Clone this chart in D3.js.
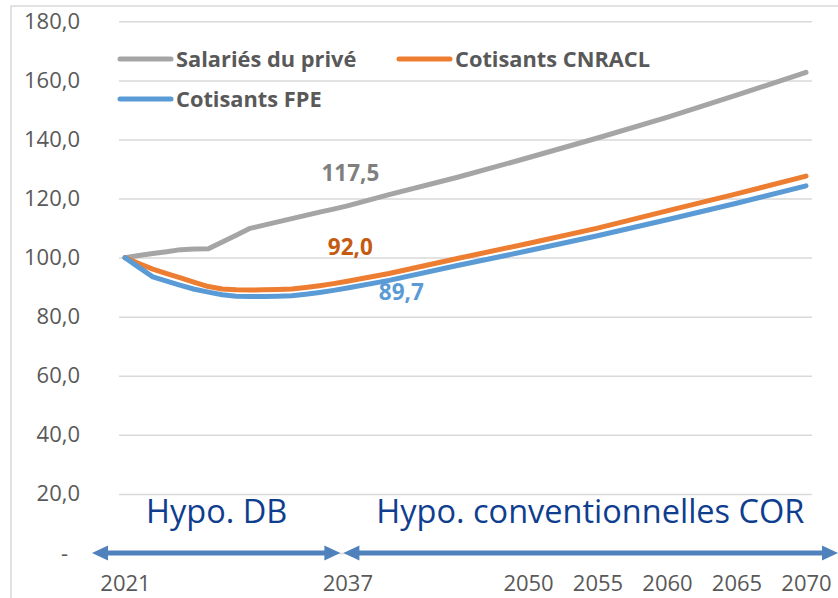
<!DOCTYPE html>
<html>
<head>
<meta charset="utf-8">
<script src="https://cdn.jsdelivr.net/npm/d3@7"></script>
<style>
  body { margin: 0; background: #fff; }
  svg { font-family: "Open Sans", sans-serif; }
  .grid line { stroke: #d9d9d9; stroke-width: 1.5; }
</style>
</head>
<body>
<svg id="chart"></svg>
<script>
// data
var years = [2021, 2022, 2023, 2024, 2025, 2026, 2027, 2028, 2029, 2030, 2031, 2032,
             2033, 2034, 2035, 2036, 2037, 2040, 2045, 2050, 2055, 2060, 2065, 2070];
var salaries = [100, 100.7, 101.4, 102.0, 102.7, 102.9, 103.0, 105.3, 107.6, 109.9, 111.0, 112.1,
                113.2, 114.3, 115.4, 116.4, 117.5, 121.3, 127.3, 133.8, 140.5, 147.5, 155.0, 162.7];
var cnracl = [100, 98.0, 96.1, 94.6, 93.1, 91.6, 90.2, 89.4, 89.1, 89.0, 89.1, 89.2,
              89.4, 89.9, 90.5, 91.2, 92.0, 94.6, 99.8, 104.8, 110.0, 115.8, 121.6, 127.6];
var fpe = [100, 96.7, 93.5, 92.0, 90.6, 89.3, 88.3, 87.4, 86.9, 86.8, 86.8, 86.9,
           87.1, 87.6, 88.2, 88.9, 89.7, 92.3, 97.4, 102.3, 107.4, 112.8, 118.4, 124.3];
var seriesNames = ["Salariés du privé", "Cotisants CNRACL", "Cotisants FPE"];
var yTicks = [0, 20, 40, 60, 80, 100, 120, 140, 160, 180];
var xTicks = [2021, 2037, 2050, 2055, 2060, 2065, 2070];
var periods = [["Hypo. DB", 2021, 2037], ["Hypo. conventionnelles COR", 2037, 2070]];
var labelYear = 2037;

var width = 838;
var height = 598;
var svg = d3.select("#chart")
  .attr("width", width)
  .attr("height", height);

var colors = ["#a5a5a5", "#ed7d31", "#5b9bd5"];
var labelColors = ["#7f7f7f", "#c55a11", "#5b9bd5"];

var x = d3.scaleLinear()
  .domain([2021, 2070])
  .range([125, 806]);
var y = d3.scaleLinear()
  .domain([0, 180])
  .range([553, 21.3]);

// outer frame of the chart
svg.append("rect")
  .attr("x", 11)
  .attr("y", 6)
  .attr("width", width)
  .attr("height", height)
  .attr("fill", "none")
  .attr("stroke", "#d9d9d9")
  .attr("stroke-width", 1.5);

// gridlines
svg.append("g")
  .attr("class", "grid")
  .attr("transform", "translate(119,0)")
  .call(d3.axisLeft(y).tickValues(yTicks).tickSize(-693).tickFormat(""))
  .call(function(g){ g.select(".domain").remove(); });

// y axis labels
var yAxis = svg.append("g")
  .attr("transform", "translate(92,0)")
  .call(d3.axisLeft(y).tickValues(yTicks).tickSize(0).tickPadding(0)
    .tickFormat(function(d){ return d === 0 ? "-" : d3.format(".1f")(d).replace(".", ","); }));
yAxis.select(".domain").remove();
yAxis.selectAll("text")
  .attr("x", -12)
  .attr("font-family", "Open Sans")
  .attr("font-size", "22px")
  .attr("fill", "#595959");
yAxis.selectAll("text")
  .filter(function(d){ return d === 0; })
  .attr("x", -24);

// x axis labels
var xAxis = svg.append("g")
  .attr("transform", "translate(0,575)")
  .call(d3.axisBottom(x).tickValues(xTicks).tickSize(0).tickPadding(0).tickFormat(d3.format("d")));
xAxis.select(".domain").remove();
xAxis.selectAll("text")
  .attr("font-family", "Open Sans")
  .attr("font-size", "22px")
  .attr("fill", "#595959");

// period arrows
var arrowColor = "#4f81bd";
periods.forEach(function(p, i){
  var x1 = i === 0 ? x(p[1]) - 33 : x(p[1]) - 4;
  var x2 = i === 0 ? x(p[2]) - 7 : x(p[2]) + 32;
  var yy = y(0);
  svg.append("line")
    .attr("x1", x1 + 12)
    .attr("x2", x2 - 12)
    .attr("y1", yy)
    .attr("y2", yy)
    .attr("stroke", arrowColor)
    .attr("stroke-width", 5);
  svg.append("path")
    .attr("d", "M" + x1 + "," + yy + "L" + (x1 + 16) + "," + (yy - 7.5) + "L" + (x1 + 16) + "," + (yy + 7.5) + "Z")
    .attr("fill", arrowColor);
  svg.append("path")
    .attr("d", "M" + x2 + "," + yy + "L" + (x2 - 16) + "," + (yy - 7.5) + "L" + (x2 - 16) + "," + (yy + 7.5) + "Z")
    .attr("fill", arrowColor);
  svg.append("text")
    .attr("x", i === 0 ? x1 + 54 : x1 + 33)
    .attr("y", 523)
    .attr("font-family", "Open Sans")
    .attr("font-size", "32.5px")
    .attr("fill", "#0f3e8f")
    .text(p[0]);
});

// lines
var allSeries = [salaries, cnracl, fpe];
var line = d3.line()
  .x(function(d, i){ return x(years[i]); })
  .y(function(d){ return y(d); });
allSeries.forEach(function(s, k){
  svg.append("path")
    .datum(s)
    .attr("d", line)
    .attr("fill", "none")
    .attr("stroke", colors[k])
    .attr("stroke-width", 5)
    .attr("stroke-linejoin", "round")
    .attr("stroke-linecap", "round");
});

// value labels at 2037
var idx = years.indexOf(labelYear);
var labelOffsets = [[0, -25], [0, -26], [51, 12]];
allSeries.forEach(function(s, k){
  svg.append("text")
    .attr("x", x(labelYear) + labelOffsets[k][0] + 3)
    .attr("y", y(s[idx]) + labelOffsets[k][1])
    .attr("text-anchor", "middle")
    .attr("font-family", "Open Sans")
    .attr("font-weight", "bold")
    .attr("font-size", "22.5px")
    .attr("fill", labelColors[k])
    .text(d3.format(".1f")(s[idx]).replace(".", ","));
});

// legend
var legendPos = [[118, 59], [397, 59], [118, 99]];
seriesNames.forEach(function(name, k){
  var g = svg.append("g")
    .attr("transform", "translate(" + legendPos[k][0] + "," + legendPos[k][1] + ")");
  g.append("line")
    .attr("x1", 2)
    .attr("x2", 53)
    .attr("stroke", colors[k])
    .attr("stroke-width", 5)
    .attr("stroke-linecap", "round");
  g.append("text")
    .attr("x", 58)
    .attr("y", 8)
    .attr("font-family", "Open Sans")
    .attr("font-weight", "bold")
    .attr("font-size", "21.8px")
    .attr("fill", "#595959")
    .text(name);
});
</script>
</body>
</html>
